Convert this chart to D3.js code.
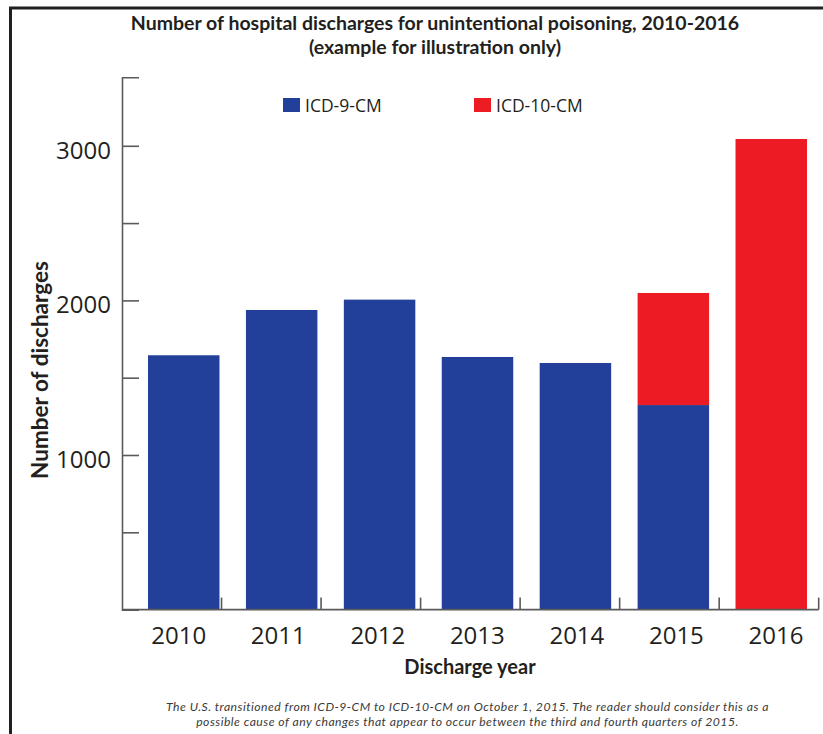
<!DOCTYPE html>
<html>
<head>
<meta charset="utf-8">
<script src="https://cdn.jsdelivr.net/npm/d3@7"></script>
<style>
  html, body { margin: 0; padding: 0; background: #fff; }
  svg { display: block; }
  .tick text { font-family: "Open Sans", sans-serif; }
</style>
</head>
<body>
<svg id="chart" width="823" height="734"></svg>
<script>
// Discharge years and counts per coding system
const years = ["2010", "2011", "2012", "2013", "2014", "2015", "2016"];
const icd9Counts = [1645, 1938, 2005, 1634, 1595, 1323, 0];
const icd10Counts = [0, 0, 0, 0, 0, 725, 3044];
const seriesNames = ["ICD-9-CM", "ICD-10-CM"];
const seriesColors = ["#224099", "#ED1C24"];
const yTickValues = [0, 500, 1000, 1500, 2000, 2500, 3000];
const yMax = 3443;

const titleLines = [
  "Number of hospital discharges for unintentional poisoning, 2010-2016",
  "(example for illustration only)"
];
const noteLines = [
  "The U.S. transitioned from ICD-9-CM to ICD-10-CM on October 1, 2015. The reader should consider this as a",
  "possible cause of any changes that appear to occur between the third and fourth quarters of 2015."
];

const svg = d3.select("#chart");
const ink = "#231f20";
const axisInk = "#5a5a5a";

// outer frame (top and left edges)
svg.append("path")
  .attr("d", "M10.5,734V8H823")
  .attr("fill", "none")
  .attr("stroke", ink)
  .attr("stroke-width", 3);

// title
svg.append("g")
  .selectAll("text")
  .data(titleLines)
  .join("text")
  .attr("x", 435)
  .attr("y", (d, i) => 30 + i * 24)
  .attr("text-anchor", "middle")
  .attr("font-family", "Lato, sans-serif")
  .attr("font-weight", 700)
  .attr("font-size", 19.5)
  .attr("fill", ink)
  .text(d => d);

// scales
const plotLeft = 122, plotRight = 818.7, plotTop = 77.3, plotBottom = 609.6;
const y = d3.scaleLinear().domain([0, yMax]).range([plotBottom, plotTop]);
const xAxisBand = d3.scaleBand().domain(years).range([plotLeft, plotRight]);
const xBar = d3.scaleBand().domain(years)
  .range([148, 807])
  .paddingInner(0.27)
  .paddingOuter(0);

// stacked bars
const rows = years.map((yr, i) => ({ year: yr, "ICD-9-CM": icd9Counts[i], "ICD-10-CM": icd10Counts[i] }));
const stacked = d3.stack().keys(seriesNames)(rows);
const color = d3.scaleOrdinal().domain(seriesNames).range(seriesColors);

svg.append("g")
  .selectAll("g")
  .data(stacked)
  .join("g")
  .attr("fill", d => color(d.key))
  .selectAll("rect")
  .data(d => d.filter(s => s[1] > s[0]))
  .join("rect")
  .attr("x", d => xBar(d.data.year))
  .attr("width", xBar.bandwidth())
  .attr("y", d => y(d[1]))
  .attr("height", d => y(d[0]) - y(d[1]));

// y axis, ticks pointing inward
const yAxis = d3.axisLeft(y)
  .tickValues(yTickValues)
  .tickSizeInner(-17)
  .tickSizeOuter(-17)
  .tickPadding(11)
  .tickFormat(d => d % 1000 === 0 && d > 0 ? String(d) : "");

const yg = svg.append("g")
  .attr("transform", `translate(${plotLeft},0)`)
  .call(yAxis);
yg.selectAll("path, line").attr("stroke", axisInk).attr("stroke-width", 1.6);
yg.selectAll("text")
  .attr("font-size", 24)
  .attr("fill", ink)
  .attr("dy", "0.52em");

// x axis: baseline with ticks at category boundaries
const xg = svg.append("g");
xg.append("line")
  .attr("x1", plotLeft).attr("x2", plotRight)
  .attr("y1", plotBottom).attr("y2", plotBottom)
  .attr("stroke", axisInk).attr("stroke-width", 1.6);
const boundaries = years.slice(1).map(yr => xAxisBand(yr)).concat([plotRight]);
xg.selectAll("line.bound")
  .data(boundaries)
  .join("line")
  .attr("class", "bound")
  .attr("x1", d => d).attr("x2", d => d)
  .attr("y1", plotBottom).attr("y2", plotBottom - 12)
  .attr("stroke", axisInk).attr("stroke-width", 1.6);
xg.selectAll("text")
  .data(years)
  .join("text")
  .attr("x", d => xAxisBand(d) + xAxisBand.bandwidth() / 2 + 7)
  .attr("y", 644)
  .attr("text-anchor", "middle")
  .attr("font-family", "Open Sans, sans-serif")
  .attr("font-size", 24)
  .attr("fill", ink)
  .text(d => d);

// axis titles
svg.append("text")
  .attr("transform", "rotate(-90)")
  .attr("x", -370)
  .attr("y", 48)
  .attr("text-anchor", "middle")
  .attr("font-family", "Lato, sans-serif")
  .attr("font-weight", 700)
  .attr("font-size", 22.5)
  .attr("fill", ink)
  .text("Number of discharges");

svg.append("text")
  .attr("x", 470)
  .attr("y", 673.5)
  .attr("text-anchor", "middle")
  .attr("font-family", "Lato, sans-serif")
  .attr("font-weight", 700)
  .attr("font-size", 20)
  .attr("fill", ink)
  .text("Discharge year");

// legend
const legendX = [283, 474];
const lg = svg.append("g")
  .selectAll("g")
  .data(seriesNames)
  .join("g")
  .attr("transform", (d, i) => `translate(${legendX[i]},98)`);
lg.append("rect")
  .attr("width", 17)
  .attr("height", 14)
  .attr("fill", d => color(d));
lg.append("text")
  .attr("x", 22)
  .attr("y", 14)
  .attr("font-family", "Open Sans, sans-serif")
  .attr("font-size", 17.5)
  .attr("fill", ink)
  .text(d => d);

// footnote
svg.append("g")
  .selectAll("text")
  .data(noteLines)
  .join("text")
  .attr("x", 467.5)
  .attr("y", (d, i) => 711 + i * 15)
  .attr("text-anchor", "middle")
  .attr("font-family", "Lato, sans-serif")
  .attr("font-style", "italic")
  .attr("font-size", 12.2)
  .attr("letter-spacing", 0.48)
  .attr("fill", "#3a3a3a")
  .text(d => d);
</script>
</body>
</html>
